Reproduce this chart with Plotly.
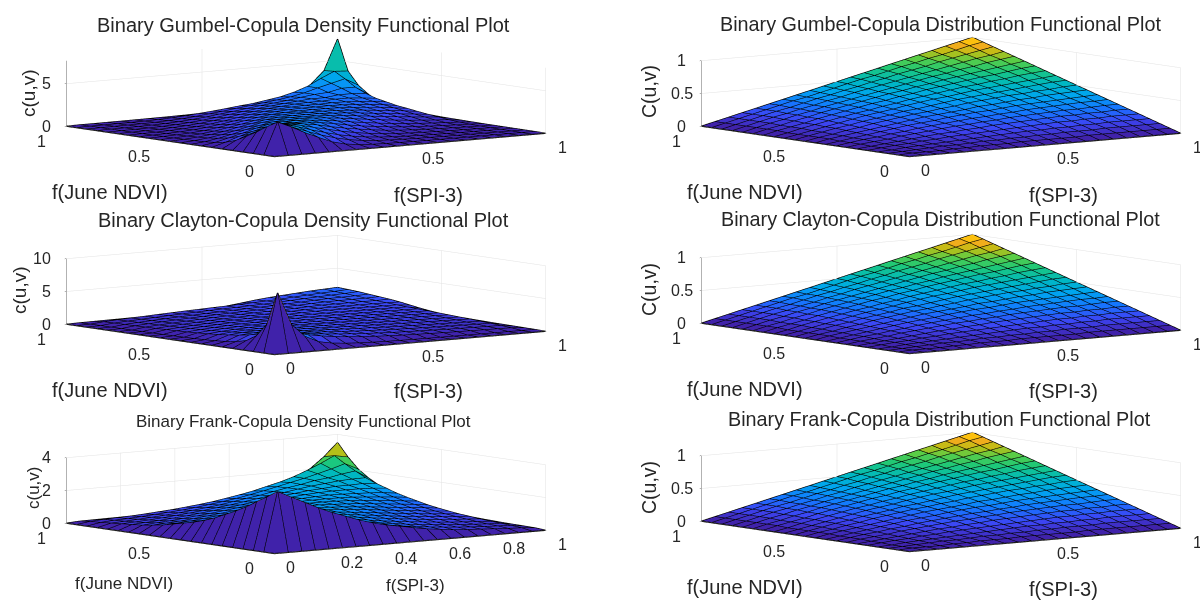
import math
import plotly.graph_objects as go

grid = [i / 20 for i in range(21)]

# Upper-triangle readings (row n = 0.05..1, column m = n..1); the u=0 and v=0 edges sit at 0.
gumbel_density = [
 [3.7,3.0,2.2,1.5,.85,.45,.25,.15,.1,.08,.06,.05,.04,.04,.03,.03,.03,.02,.02,.02],
 [3.2,2.6,2.0,1.45,1.0,.65,.42,.28,.2,.15,.11,.09,.07,.06,.05,.04,.04,.03,.02],
 [2.8,2.4,1.9,1.45,1.05,.75,.52,.37,.26,.19,.15,.12,.09,.07,.06,.05,.04,.03],
 [2.5,2.25,1.85,1.5,1.15,.85,.62,.45,.33,.25,.19,.15,.12,.09,.07,.05,.03],
 [2.3,2.1,1.85,1.5,1.2,.95,.72,.54,.41,.31,.24,.18,.14,.1,.07,.04],
 [2.1,2.0,1.8,1.55,1.25,1.0,.8,.62,.48,.37,.29,.22,.16,.11,.05],
 [2.0,1.9,1.75,1.55,1.3,1.08,.88,.7,.56,.44,.34,.25,.18,.06],
 [1.9,1.85,1.72,1.55,1.35,1.15,.95,.78,.63,.5,.38,.28,.08],
 [1.8,1.78,1.68,1.55,1.38,1.2,1.02,.85,.7,.55,.42,.1],
 [1.75,1.75,1.65,1.55,1.4,1.22,1.05,.88,.72,.56,.12],
 [1.7,1.7,1.65,1.55,1.42,1.25,1.08,.92,.72,.15],
 [1.7,1.7,1.65,1.55,1.42,1.28,1.1,.9,.2],
 [1.7,1.72,1.68,1.58,1.45,1.3,1.05,.3],
 [1.7,1.75,1.72,1.62,1.5,1.3,.4],
 [1.75,1.85,1.85,1.72,1.55,.6],
 [1.85,2.05,2.05,1.95,.9],
 [2.15,2.5,2.5,1.5],
 [2.9,3.3,2.4],
 [4.0,3.9],
 [7.5],
]
clayton_density = [
 [9,4.0,2.0,1.0,.6,.4,.28,.2,.15,.12,.1,.08,.07,.06,.05,.05,.04,.04,.03,.03],
 [3.0,2.31,1.82,1.46,1.18,.98,.82,.7,.6,.52,.46,.41,.36,.33,.3,.27,.25,.22,.05],
 [2.1,1.83,1.57,1.35,1.17,1.02,.89,.79,.7,.63,.57,.52,.47,.43,.4,.37,.34,.07],
 [1.71,1.56,1.41,1.27,1.14,1.02,.93,.84,.76,.7,.64,.59,.55,.51,.47,.44,.09],
 [1.49,1.4,1.3,1.2,1.11,1.02,.95,.87,.81,.75,.7,.65,.61,.57,.53,.11],
 [1.36,1.3,1.23,1.16,1.09,1.03,.97,.91,.85,.8,.75,.71,.67,.63,.14],
 [1.27,1.23,1.18,1.13,1.08,1.03,.98,.93,.88,.83,.79,.75,.71,.18],
 [1.22,1.19,1.16,1.12,1.08,1.04,1.0,.96,.92,.88,.84,.8,.2],
 [1.19,1.17,1.14,1.11,1.08,1.05,1.02,.98,.94,.91,.87,.25],
 [1.18,1.17,1.15,1.13,1.1,1.07,1.04,1.01,.98,.95,.35],
 [1.19,1.18,1.16,1.14,1.12,1.1,1.07,1.04,1.01,.5],
 [1.21,1.2,1.19,1.17,1.15,1.13,1.11,1.08,.7],
 [1.25,1.24,1.23,1.22,1.2,1.18,1.16,.95],
 [1.3,1.3,1.29,1.28,1.27,1.25,1.2],
 [1.37,1.37,1.37,1.37,1.36,1.4],
 [1.45,1.47,1.48,1.49,1.55],
 [1.55,1.58,1.62,1.7],
 [1.67,1.74,1.85],
 [1.82,1.95],
 [2.05],
]
frank_density = [
 [3.6,3.2,2.8,2.4,2.05,1.75,1.45,1.2,1.0,.85,.7,.55,.45,.35,.3,.25,.2,.15,.12,.05],
 [2.9,2.55,2.2,1.9,1.6,1.35,1.15,.98,.83,.7,.59,.5,.42,.35,.29,.24,.21,.17,.06],
 [2.35,2.05,1.8,1.55,1.35,1.18,1.02,.88,.76,.65,.55,.47,.4,.34,.29,.24,.21,.07],
 [1.95,1.75,1.55,1.38,1.22,1.08,.95,.83,.73,.63,.55,.47,.4,.34,.29,.24,.08],
 [1.7,1.5,1.38,1.26,1.14,1.03,.92,.82,.72,.63,.54,.47,.4,.35,.29,.1],
 [1.5,1.36,1.28,1.2,1.1,1.0,.91,.81,.71,.63,.55,.47,.41,.35,.12],
 [1.38,1.3,1.24,1.16,1.08,.99,.9,.81,.72,.63,.55,.48,.41,.15],
 [1.3,1.26,1.21,1.16,1.08,1.0,.91,.82,.73,.64,.56,.49,.18],
 [1.27,1.24,1.2,1.15,1.08,1.01,.92,.83,.74,.67,.58,.22],
 [1.25,1.25,1.21,1.17,1.11,1.03,.95,.87,.78,.68,.27],
 [1.26,1.26,1.24,1.2,1.14,1.07,1.0,.9,.82,.34],
 [1.28,1.29,1.28,1.25,1.19,1.12,1.05,.96,.42],
 [1.33,1.36,1.34,1.31,1.28,1.22,1.12,.55],
 [1.41,1.44,1.44,1.43,1.4,1.33,.72],
 [1.49,1.56,1.56,1.59,1.53,.95],
 [1.64,1.73,1.77,1.78,1.25],
 [1.82,1.98,2.1,1.6],
 [2.2,2.45,2.05],
 [2.85,2.7],
 [3.5],
]
copula_cdf = [
 [.01,.01,.01,.02,.02,.03,.03,.03,.04,.04,.04,.04,.04,.05,.05,.05,.05,.05,.05,.05],
 [.02,.03,.04,.04,.05,.06,.06,.07,.07,.08,.08,.09,.09,.09,.1,.1,.1,.1,.1],
 [.04,.05,.06,.07,.08,.09,.1,.11,.12,.12,.13,.13,.14,.14,.15,.15,.15,.15],
 [.07,.08,.1,.11,.12,.13,.14,.15,.16,.17,.18,.18,.19,.19,.2,.2,.2],
 [.1,.12,.13,.15,.16,.18,.19,.2,.21,.22,.23,.23,.24,.24,.25,.25],
 [.14,.16,.18,.19,.21,.22,.24,.25,.26,.27,.28,.28,.29,.3,.3],
 [.18,.2,.22,.24,.25,.27,.28,.3,.31,.32,.33,.34,.34,.35],
 [.22,.25,.27,.29,.3,.32,.34,.35,.36,.37,.38,.39,.4],
 [.27,.29,.31,.34,.35,.37,.39,.4,.42,.43,.44,.45],
 [.32,.34,.37,.39,.41,.43,.44,.46,.47,.49,.5],
 [.37,.4,.42,.44,.46,.48,.5,.52,.54,.55],
 [.42,.45,.48,.5,.52,.54,.56,.58,.6],
 [.48,.51,.53,.56,.58,.61,.63,.65],
 [.54,.57,.6,.62,.65,.68,.7],
 [.6,.63,.66,.69,.72,.75],
 [.67,.7,.74,.77,.8],
 [.74,.78,.81,.85],
 [.82,.86,.9],
 [.91,.95],
 [1.0],
]

parula = [
 [0.0, "rgb(64,34,170)"], [0.125, "rgb(60,70,245)"], [0.25, "rgb(20,120,255)"],
 [0.375, "rgb(0,165,240)"], [0.5, "rgb(0,185,190)"], [0.625, "rgb(30,200,120)"],
 [0.72, "rgb(90,205,70)"], [0.8, "rgb(190,190,20)"], [0.875, "rgb(250,170,30)"],
 [0.95, "rgb(255,215,0)"], [1.0, "rgb(255,230,0)"],
]

AZ, SIN_EL = math.radians(37.5), 0.112
COS_EL = math.sqrt(1 - SIN_EL ** 2)
EYE_R = 4.0
ASPECT = 3.56
eye = dict(x=-math.sin(AZ) * COS_EL * EYE_R, y=-math.cos(AZ) * COS_EL * EYE_R, z=SIN_EL * EYE_R)


def expand(rows):
    n = len(grid)
    z = [[0.0] * n for _ in range(n)]
    for i, row in enumerate(rows, start=1):
        for k, value in enumerate(row):
            z[i][i + k] = value
            z[i + k][i] = value
    return z


panels = [
 dict(table=gumbel_density, zr=[0, 7.7], zt=[0, 5], xt=[0, .5, 1], ztitle="c(u,v)", title="Binary Gumbel-Copula Density Functional Plot",
      c=(306, 97), tp=(303, 25), ts=20, hw=300, ylab=(110, 192, 20), xlab=(428, 195, 20), zlab=(29, 93, 19)),
 dict(table=copula_cdf, zr=[0, 1], zt=[0, .5, 1], xt=[0, .5, 1], ztitle="C(u,v)", title="Binary Gumbel-Copula Distribution Functional Plot",
      c=(941, 97), tp=(940, 24), ts=19.8, hw=258, ylab=(745, 192, 20), xlab=(1063, 195, 20), zlab=(649, 92, 19.5)),
 dict(table=clayton_density, zr=[0, 10], zt=[0, 5, 10], xt=[0, .5, 1], ztitle="c(u,v)", title="Binary Clayton-Copula Density Functional Plot",
      c=(306, 295), tp=(303, 220), ts=20, hw=300, ylab=(110, 390, 20), xlab=(428, 391, 20), zlab=(19, 290, 19)),
 dict(table=copula_cdf, zr=[0, 1], zt=[0, .5, 1], xt=[0, .5, 1], ztitle="C(u,v)", title="Binary Clayton-Copula Distribution Functional Plot",
      c=(941, 294), tp=(940, 219), ts=19.8, hw=258, ylab=(745, 389, 20), xlab=(1063, 391, 20), zlab=(649, 290, 19.5)),
 dict(table=frank_density, zr=[0, 4], zt=[0, 2, 4], xt=[0, .2, .4, .6, .8, 1], ztitle="c(u,v)", title="Binary Frank-Copula Density Functional Plot",
      c=(306, 494), tp=(303, 421), ts=17, hw=300, ylab=(124, 583, 17), xlab=(415, 585, 17), zlab=(33, 488, 17)),
 dict(table=copula_cdf, zr=[0, 1], zt=[0, .5, 1], xt=[0, .5, 1], ztitle="C(u,v)", title="Binary Frank-Copula Distribution Functional Plot",
      c=(941, 492), tp=(939, 419), ts=19.8, hw=258, ylab=(745, 587, 20), xlab=(1063, 589, 20), zlab=(649, 488, 19.5)),
]

W, H, HALF_H = 1200, 603, 96
fig = go.Figure()
notes = []
layout = dict(width=W, height=H, margin=dict(l=0, r=0, t=0, b=0), paper_bgcolor="white",
              showlegend=False, font=dict(family="Liberation Sans", color="#262626"))


def note(text, x, y, size, angle=0):
    notes.append(dict(text=text, x=x / W, y=1 - y / H, xref="paper", yref="paper", showarrow=False,
                      font=dict(size=size, family="Liberation Sans", color="#262626"),
                      textangle=angle, xanchor="center", yanchor="middle"))


for idx, p in enumerate(panels, start=1):
    name = "scene" if idx == 1 else f"scene{idx}"
    z = expand(p["table"])
    n = len(grid)
    xs, ys, zs = [], [], []
    for a in range(n):
        for b in range(n):
            xs.append(grid[b]); ys.append(grid[a]); zs.append(z[a][b])
    ti, tj, tk, inten = [], [], [], []
    for a in range(n - 1):
        for b in range(n - 1):
            v0 = a * n + b
            ti += [v0, v0]; tj += [v0 + 1, v0 + n + 1]; tk += [v0 + n + 1, v0 + n]
            inten += [z[a][b], z[a][b]]
    fig.add_trace(go.Mesh3d(x=xs, y=ys, z=zs, i=ti, j=tj, k=tk, intensity=inten, intensitymode="cell",
                            colorscale=parula, cmin=0, cmax=max(zs), showscale=False, flatshading=True,
                            lighting=dict(ambient=1, diffuse=0, specular=0, fresnel=0, roughness=1),
                            hoverinfo="skip", scene=name))
    lx, ly, lz = [], [], []
    for a in range(n):
        for b in range(n):
            lx.append(grid[b]); ly.append(grid[a]); lz.append(z[a][b])
        lx.append(None); ly.append(None); lz.append(None)
    for b in range(n):
        for a in range(n):
            lx.append(grid[b]); ly.append(grid[a]); lz.append(z[a][b])
        lx.append(None); ly.append(None); lz.append(None)
    fig.add_trace(go.Scatter3d(x=lx, y=ly, z=lz, mode="lines", line=dict(color="#000000", width=2.4),
                               hoverinfo="skip", scene=name))
    cx, cy = p["c"]
    axis = dict(showbackground=False, showgrid=True, gridcolor="#e2e2e2", gridwidth=1, zeroline=False,
                showline=True, linecolor="#666666", linewidth=1, ticks="outside", ticklen=2, tickcolor="#666666",
                showspikes=False, showticklabels=False, title=dict(text=""))
    tickfont = dict(size=16, family="Liberation Sans", color="#262626")
    scene_notes = []
    for t in p["xt"]:
        scene_notes.append(dict(x=t, y=0, z=0, text=f"{t:g}", showarrow=False, font=tickfont,
                                xanchor="left", yanchor="middle", xshift=10, yshift=-14))
    for t in [0, .5, 1]:
        scene_notes.append(dict(x=0, y=t, z=0, text=f"{t:g}", showarrow=False, font=tickfont,
                                xanchor="right", yanchor="middle", xshift=-18, yshift=-15))
    for t in p["zt"]:
        scene_notes.append(dict(x=0, y=1, z=t, text=f"{t:g}", showarrow=False, font=tickfont,
                                xanchor="right", yanchor="middle", xshift=-6 if t == .5 else -13, yshift=0))
    layout[name] = dict(
        domain=dict(x=[(cx - p["hw"]) / W, (cx + p["hw"]) / W], y=[1 - (cy + HALF_H) / H, 1 - (cy - HALF_H) / H]),
        aspectmode="manual", aspectratio=dict(x=ASPECT, y=ASPECT, z=0.193 * ASPECT),
        camera=dict(eye=eye, up=dict(x=0, y=0, z=1), center=dict(x=0, y=0, z=0), projection=dict(type="orthographic")),
        xaxis=dict(axis, range=[0, 1], tickvals=p["xt"]),
        yaxis=dict(axis, range=[0, 1], tickvals=[0, .5, 1]),
        zaxis=dict(axis, range=p["zr"], tickvals=p["zt"]),
        annotations=scene_notes,
    )
    note(p["title"], p["tp"][0], p["tp"][1], p["ts"])
    note("f(June NDVI)", *p["ylab"])
    note("f(SPI-3)", *p["xlab"])
    note(p["ztitle"], p["zlab"][0], p["zlab"][1], p["zlab"][2], -90)

layout["annotations"] = notes
fig.update_layout(**layout)
fig.write_html("out.html", post_script="document.body.style.margin='0';", config=dict(displayModeBar=False))
